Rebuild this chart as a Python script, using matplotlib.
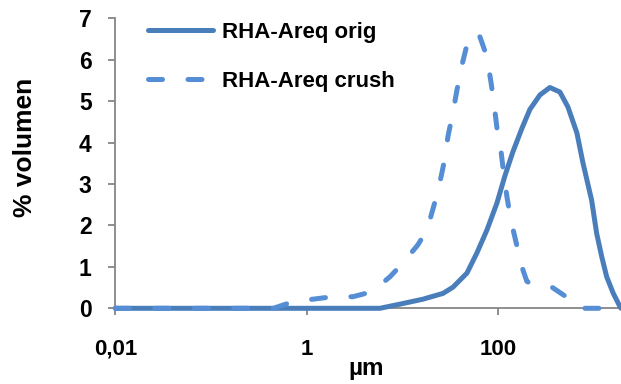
import matplotlib
matplotlib.use('Agg')
import matplotlib.pyplot as plt
from matplotlib.ticker import NullLocator

# Distribución de tamaño de partícula
x_orig = [0.01, 0.1, 1, 3, 5.83, 9.42, 16.4, 26.6, 33.8, 47.3, 60.2, 76.5, 97.3,
          118, 143, 178, 215, 274, 348, 443, 537, 667, 771, 950, 1072, 1210,
          1365, 1600, 1880, 1926]
y_orig = [0, 0, 0, 0, 0, 0.10, 0.22, 0.36, 0.51, 0.85, 1.34, 1.89, 2.54,
          3.2, 3.78, 4.35, 4.80, 5.15, 5.33, 5.22, 4.86, 4.23, 3.51, 2.61, 1.81,
          1.25, 0.76, 0.36, 0.04, 0]

x_crush = [0.01, 0.1, 0.3, 0.45, 0.72, 1.16, 1.88, 3.05, 4.81, 7.41, 10.1, 14.5,
           18.1, 21.9, 24.7, 27.9, 29.9, 33.8, 37.2, 41.9, 47.3, 54.6, 64.7, 76.5,
           84.3, 90.6, 97.3, 107, 115, 124, 136, 154, 178, 200, 226, 365, 537,
           640, 720, 1000, 1926]
y_crush = [0, 0, 0, 0, 0.16, 0.22, 0.28, 0.28, 0.40, 0.76, 1.09, 1.53,
           1.89, 2.57, 3.05, 3.63, 4.14, 4.74, 5.27, 5.87, 6.36, 6.65, 6.55, 6.07,
           5.46, 4.95, 4.35, 3.82, 3.22, 2.68, 2.13, 1.60, 0.99, 0.65, 0.58, 0.51,
           0.25, 0.06, 0, 0, 0]

labels = ['RHA-Areq orig', 'RHA-Areq crush']
xticks = [0.01, 1, 100]
xticklabels = ['0,01', '1', '100']

plt.rcParams['font.family'] = ['Liberation Sans', 'DejaVu Sans']
plt.rcParams['font.weight'] = 'bold'

fig = plt.figure(figsize=(6.21, 3.84), dpi=100)
ax = fig.add_axes([115.3 / 621, 1 - 308.3 / 384, 1 - 115.3 / 621, 290 / 384])

ax.plot(x_orig, y_orig, color='#4a7ebb', lw=3.6, solid_capstyle='round',
        solid_joinstyle='round', label=labels[0], clip_on=False)
ax.plot(x_crush, y_crush, color='#558ed5', lw=3.6, dashes=(2.8, 5.1),
        dash_capstyle='round', dash_joinstyle='round', label=labels[1], clip_on=False)

ax.set_xscale('log')
ax.set_xlim(0.01, 1926)
ax.set_ylim(0, 7)
ax.set_xticks(xticks)
ax.set_xticklabels(xticklabels)
ax.xaxis.set_minor_locator(NullLocator())
ax.set_yticks(range(8))

for s in ['top', 'right']:
    ax.spines[s].set_visible(False)
for s in ['left', 'bottom']:
    ax.spines[s].set_color('#868686')
    ax.spines[s].set_linewidth(1.3)
    ax.spines[s].set_zorder(0)

ax.tick_params(axis='x', direction='out', length=5, width=1.3, color='#868686',
               labelsize=16, pad=17)
ax.tick_params(axis='y', direction='out', length=5, width=1.3, color='#868686',
               labelsize=16.5, pad=12)
for t in ax.get_xticklabels() + ax.get_yticklabels():
    t.set_fontweight('bold')

fig.text(366 / 621, 1 - 375 / 384, 'µm', ha='center', va='baseline',
         fontsize=17.5, fontweight='bold')
fig.text(25 / 621, 1 - 147 / 384, '% volumen', ha='center', va='center',
         rotation=90, fontsize=19, fontweight='bold')

ax.legend(loc='upper left', bbox_to_anchor=(148 / 621, 1 - 22 / 384),
          bbox_transform=fig.transFigure, frameon=False, borderpad=0,
          borderaxespad=0, handlelength=2.93, handletextpad=0.4,
          labelspacing=1.25, prop={'size': 16, 'weight': 'bold'})

fig.savefig('out.png', dpi=100)
